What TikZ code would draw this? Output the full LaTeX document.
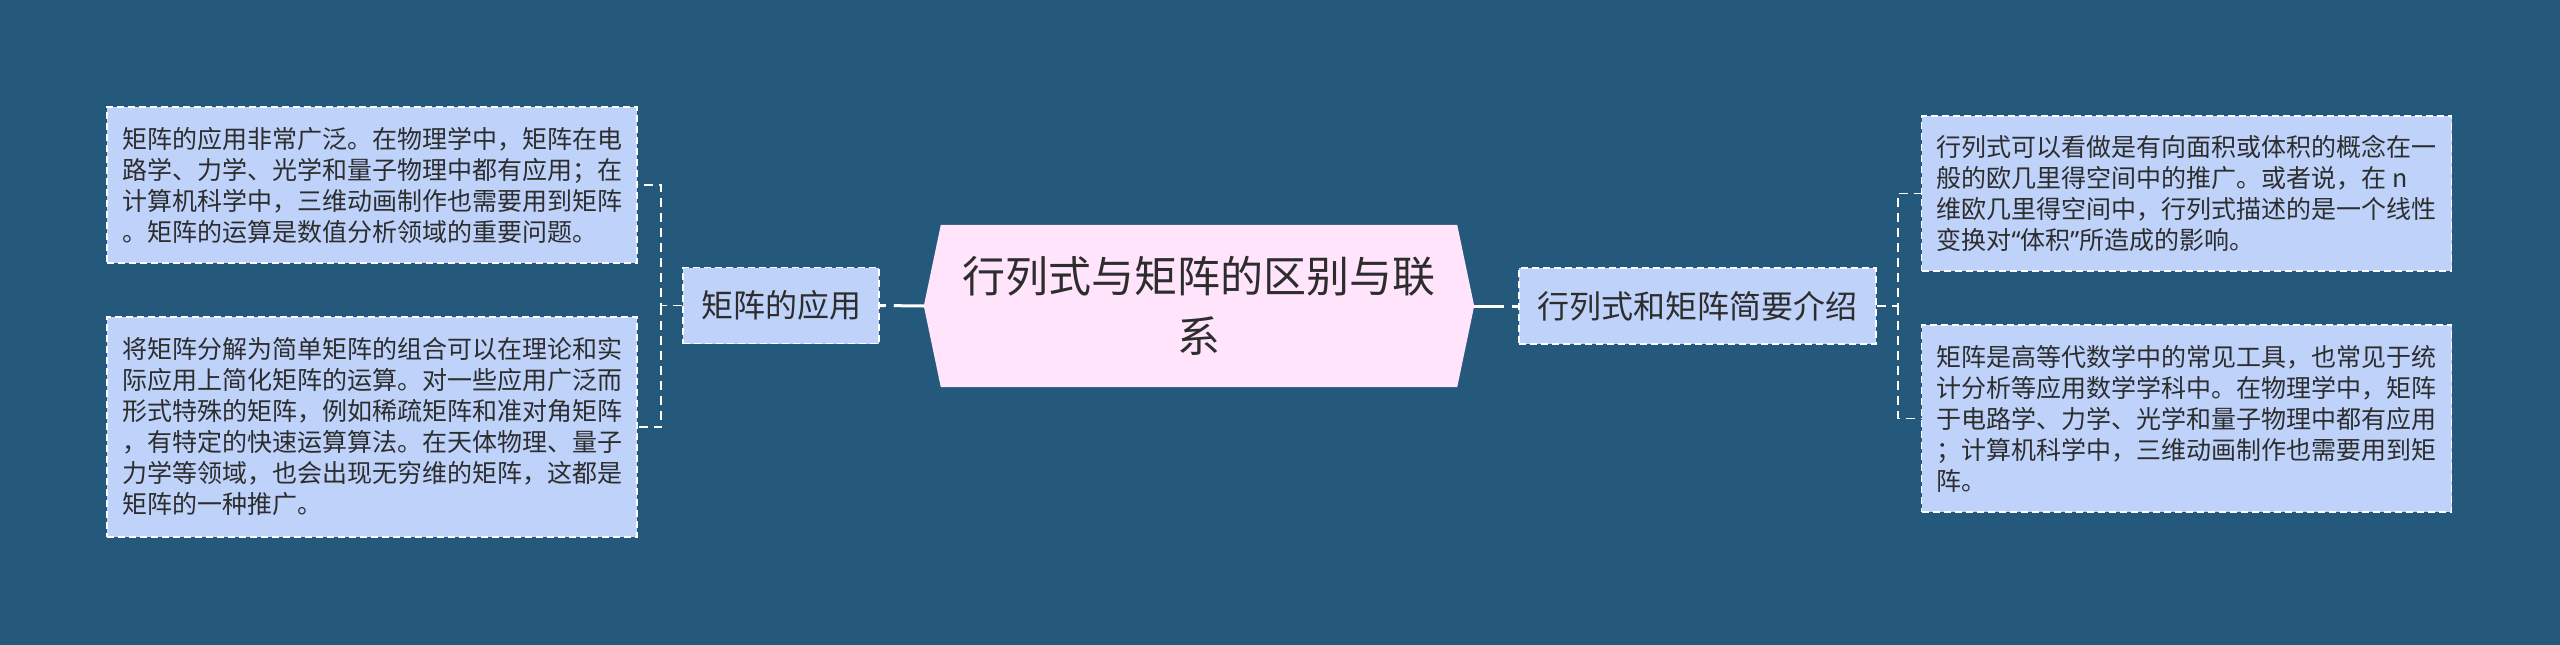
\documentclass[tikz,border=0pt]{standalone}
\usepackage{fontspec}
\setmainfont{Noto Sans CJK SC}
\newfontfamily\latinq{Noto Sans}
\usetikzlibrary{backgrounds}
\definecolor{bgblue}{RGB}{36,89,124}
\definecolor{boxblue}{RGB}{190,210,250}
\definecolor{rootpink}{RGB}{255,228,251}
\definecolor{txt}{RGB}{45,45,45}
\tikzset{
  leaf/.style={draw=white, line width=1.5pt, dash pattern=on 7pt off 4pt, fill=boxblue, text=txt,
    font=\fontsize{25}{31}\selectfont, align=left, minimum width=530pt, inner sep=0pt},
  mid/.style={draw=white, line width=1.5pt, dash pattern=on 7pt off 4pt, fill=boxblue, text=txt,
    font=\fontsize{32}{38}\selectfont, minimum height=76pt, inner sep=0pt},
  rootnode/.style={text=txt, font=\fontsize{43}{60}\selectfont, align=center,
    minimum width=550pt, minimum height=162pt, inner sep=0pt},
  conn/.style={draw=white, line width=3pt, dash pattern=on 6pt off 8pt on 400pt off 0pt},
  bracket/.style={draw=white, line width=1.5pt, dash pattern=on 9pt off 6pt},
}
\begin{document}
\begin{tikzpicture}[x=1pt,y=-1pt]
\useasboundingbox (0,0) rectangle (2560,645);
% central
\node[rootnode] (root) at (1199,306) {行列式与矩阵的区别与联\\系};
% mid nodes
\node[mid, minimum width=196pt] (lm) at (781,305.5) {矩阵的应用};
\node[mid, minimum width=357pt] (rm) at (1697.5,306) {行列式和矩阵简要介绍};
% leaves left
\node[leaf, minimum height=156pt] (lb1) at (372,185) {矩阵的应用非常广泛。在物理学中，矩阵在电\\路学、力学、光学和量子物理中都有应用；在\\计算机科学中，三维动画制作也需要用到矩阵\\。矩阵的运算是数值分析领域的重要问题。};
\node[leaf, minimum height=220pt] (lb2) at (372,427) {将矩阵分解为简单矩阵的组合可以在理论和实\\际应用上简化矩阵的运算。对一些应用广泛而\\形式特殊的矩阵，例如稀疏矩阵和准对角矩阵\\，有特定的快速运算算法。在天体物理、量子\\力学等领域，也会出现无穷维的矩阵，这都是\\矩阵的一种推广。};
% leaves right
\node[leaf, minimum height=155pt] (rb1) at (2186.5,193.5) {行列式可以看做是有向面积或体积的概念在一\\般的欧几里得空间中的推广。或者说，在 n\\维欧几里得空间中，行列式描述的是一个线性\\变换对{\latinq “}体积{\latinq ”}所造成的影响。};
\node[leaf, minimum height=187pt] (rb2) at (2186.5,418.5) {矩阵是高等代数学中的常见工具，也常见于统\\计分析等应用数学学科中。在物理学中，矩阵\\于电路学、力学、光学和量子物理中都有应用\\；计算机科学中，三维动画制作也需要用到矩\\阵。};
% junctions
\coordinate (lj) at (661,305.5);
\coordinate (rj) at (1898,306);
\begin{scope}[on background layer]
  \fill[bgblue] (0,0) rectangle (2560,645);
  \fill[rootpink] (root.west) -- ([xshift=17pt]root.north west) -- ([xshift=-17pt]root.north east)
     -- (root.east) -- ([xshift=-17pt]root.south east) -- ([xshift=17pt]root.south west) -- cycle;
  \draw[conn] (lm.east) -- (root.west);
  \draw[conn] (rm.west) -- (root.east);
  \draw[bracket] (lm.west) -- (lj) |- (lb1.east);
  \draw[bracket] (lj) |- (lb2.east);
  \draw[bracket] (rm.east) -- (rj) |- (rb1.west);
  \draw[bracket] (rj) |- (rb2.west);
\end{scope}
\end{tikzpicture}
\end{document}
